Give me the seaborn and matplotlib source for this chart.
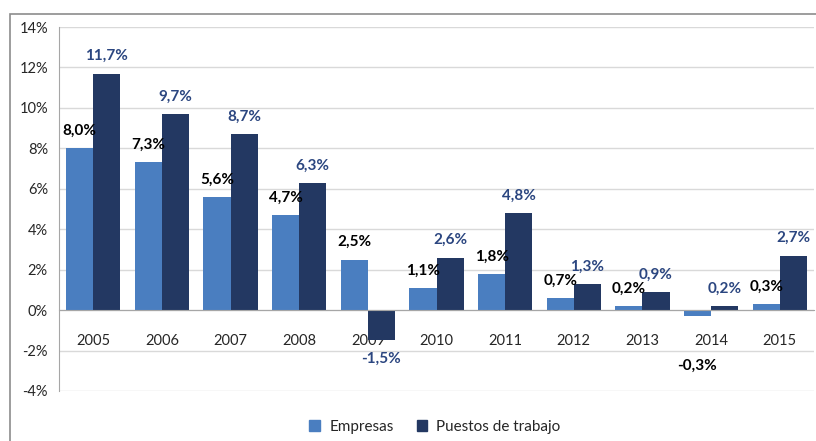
import pandas as pd
import matplotlib.pyplot as plt
import matplotlib.patches as mpatches
import seaborn as sns

# Chart data
years = ["2005", "2006", "2007", "2008", "2009", "2010", "2011", "2012", "2013", "2014", "2015"]
empresas = [8.0, 7.3, 5.6, 4.7, 2.5, 1.1, 1.8, 0.6, 0.2, -0.3, 0.3]
empresas_labels = ["8,0%", "7,3%", "5,6%", "4,7%", "2,5%", "1,1%", "1,8%", "0,7%", "0,2%", "-0,3%", "0,3%"]
puestos = [11.7, 9.7, 8.7, 6.3, -1.5, 2.6, 4.8, 1.3, 0.9, 0.2, 2.7]
puestos_labels = ["11,7%", "9,7%", "8,7%", "6,3%", "-1,5%", "2,6%", "4,8%", "1,3%", "0,9%", "0,2%", "2,7%"]
series_names = ["Empresas", "Puestos de trabajo"]

df = pd.DataFrame({
    "Año": years * 2,
    "Valor": empresas + puestos,
    "Serie": [series_names[0]] * len(years) + [series_names[1]] * len(years),
})

colors = {"Empresas": "#4A7EC0", "Puestos de trabajo": "#233862"}
label_colors = ["#000000", "#2B4680"]

sns.set_style("white")
plt.rcParams["font.family"] = ["Lato", "DejaVu Sans"]

fig = plt.figure(figsize=(8.16, 4.41), dpi=100)
ax = fig.add_axes([59 / 816, 1 - 391 / 441, 755 / 816, 364 / 441])

sns.barplot(data=df, x="Año", y="Valor", hue="Serie", palette=colors,
            errorbar=None, width=0.79, saturation=1, linewidth=0, ax=ax, legend=False)

ax.set_ylim(-4, 14)
ax.set_xlim(-0.5, len(years) - 0.5)
ax.set_yticks(range(-4, 15, 2))
ax.set_yticklabels([f"{v}%" for v in range(-4, 15, 2)], fontsize=10.5)
ax.yaxis.grid(True, color="#D9D9D9", linewidth=1)
ax.set_axisbelow(True)
ax.set_xlabel("")
ax.set_ylabel("")

# category axis sits on the zero line, ticks between categories
for side in ["top", "right"]:
    ax.spines[side].set_visible(False)
ax.spines["bottom"].set_position(("data", 0))
ax.spines["bottom"].set_color("#A6A6A6")
ax.spines["left"].set_color("#A6A6A6")
ax.set_xticks([i + 0.5 for i in range(len(years) - 1)], minor=True)
ax.tick_params(axis="x", which="major", length=0, pad=17, labelsize=10.5)
ax.tick_params(axis="x", which="minor", length=4, color="#A6A6A6", direction="out")
ax.tick_params(axis="y", length=4, color="#A6A6A6", direction="out", pad=4)

# data labels
label_sets = [empresas_labels, puestos_labels]
nudges = {(0, 9): -23}  # manually moved label in the original
for s, container in enumerate(ax.containers):
    for i, bar in enumerate(container):
        h = bar.get_height()
        x = bar.get_x() + bar.get_width() / 2
        off = 12.5 if h >= 0 else -13
        off += nudges.get((s, i), 0)
        ax.annotate(label_sets[s][i], (x, h), xytext=(0, off), textcoords="offset points",
                    ha="center", va="center", fontsize=11, fontweight="bold",
                    color=label_colors[s])

handles = [mpatches.Patch(color=colors[n], label=n) for n in series_names]
fig.legend(handles=handles, loc="center", bbox_to_anchor=(435 / 816, 1 - 427 / 441),
           ncol=2, frameon=False, fontsize=11, handlelength=0.7, handleheight=0.7,
           handletextpad=0.6, columnspacing=1.5)

# outer chart border
fig.patches.append(mpatches.Rectangle((9.5 / 816, -0.05), 1.0, 1 - 13.5 / 441 + 0.05,
                                      transform=fig.transFigure, fill=False,
                                      edgecolor="#8C8C8C", linewidth=1.2))

fig.savefig("out.png", dpi=100)
